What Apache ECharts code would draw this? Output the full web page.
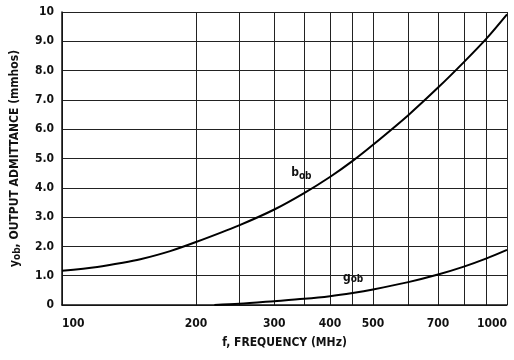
<!DOCTYPE html>
<html>
<head>
<meta charset="utf-8">
<script src="https://cdn.jsdelivr.net/npm/echarts@6/dist/echarts.min.js"></script>
<style>
  html, body { margin: 0; padding: 0; background: #fff; }
  #main { width: 514px; height: 360px; }
</style>
</head>
<body>
<div id="main"></div>
<script>
// frequency (MHz) and output admittance (mmhos)
var freqB = [100, 120, 137, 150, 175, 200, 250, 300, 350, 400, 450, 500, 600, 700, 800, 900, 1000];
var bob   = [1.17, 1.3, 1.44, 1.56, 1.84, 2.15, 2.72, 3.26, 3.82, 4.37, 4.92, 5.47, 6.48, 7.42, 8.29, 9.1, 9.92];
var freqG = [220, 250, 300, 350, 400, 450, 500, 600, 700, 800, 900, 1000];
var gob   = [0, 0.04, 0.13, 0.21, 0.3, 0.41, 0.53, 0.78, 1.04, 1.31, 1.59, 1.88];

var gridFreqs  = [100, 200, 250, 300, 350, 400, 450, 500, 600, 700, 800, 900, 1000];
var labelFreqs = [100, 200, 300, 400, 500, 700, 1000];

var FONT = "'DejaVu Sans Condensed', 'Liberation Sans', sans-serif";

function pairs(xs, ys) {
    return xs.map(function (x, i) { return [x, ys[i]]; });
}

var myChart = echarts.init(document.getElementById('main'));

var option = {
    animation: false,
    backgroundColor: '#fff',
    textStyle: { fontFamily: FONT },
    grid: { left: 62, right: 7, top: 12, bottom: 55 },
    xAxis: {
        type: 'log',
        logBase: 10,
        min: 100,
        max: 1000,
        name: 'f, FREQUENCY (MHz)',
        nameLocation: 'middle',
        nameGap: 32,
        nameTextStyle: { color: '#111', fontSize: 12, fontWeight: 'bold', fontFamily: FONT },
        axisLine: { show: true, lineStyle: { color: '#111', width: 1.5 } },
        axisTick: { show: false, customValues: gridFreqs },
        axisLabel: {
            customValues: labelFreqs,
            color: '#111',
            fontSize: 12,
            fontWeight: 'bold',
            margin: 13,
            fontFamily: FONT,
            alignMinLabel: 'left',
            alignMaxLabel: 'right',
            formatter: function (v) { return String(v); }
        },
        splitLine: { show: true, lineStyle: { color: '#222', width: 1 } }
    },
    yAxis: {
        type: 'value',
        min: 0,
        max: 10,
        interval: 1,
        name: '{y|y}{s|ob}{n|, OUTPUT ADMITTANCE (mmhos)}',
        nameLocation: 'middle',
        nameGap: 40,
        nameTextStyle: {
            color: '#111',
            rich: {
                y: { fontSize: 12, fontWeight: 'bold', fontFamily: FONT, color: '#111' },
                s: { fontSize: 10, fontWeight: 'bold', fontFamily: FONT, color: '#111', padding: [5, 0, 0, 0] },
                n: { fontSize: 12, fontWeight: 'bold', fontFamily: FONT, color: '#111' }
            }
        },
        axisLine: { show: true, lineStyle: { color: '#111', width: 1.5 } },
        axisTick: { show: false },
        axisLabel: {
            color: '#111',
            fontSize: 12,
            fontWeight: 'bold',
            margin: 8,
            fontFamily: FONT,
            formatter: function (v) {
                return (v === 0 || v === 10) ? String(v) : v.toFixed(1);
            }
        },
        splitLine: { show: true, lineStyle: { color: '#222', width: 1 } }
    },
    series: [
        {
            name: 'bob',
            type: 'line',
            smooth: 0.3,
            showSymbol: false,
            lineStyle: { color: '#000', width: 2 },
            data: pairs(freqB, bob),
            markPoint: {
                symbol: 'circle',
                symbolSize: 1,
                itemStyle: { color: 'rgba(0,0,0,0)' },
                label: {
                    show: true,
                    position: 'inside',
                    formatter: '{b|b}{s|ob}',
                    rich: {
                        b: { fontSize: 12, fontWeight: 'bold', fontFamily: FONT, color: '#111' },
                        s: { fontSize: 10, fontWeight: 'bold', fontFamily: FONT, color: '#111', padding: [6, 0, 0, 0] }
                    }
                },
                data: [{ coord: [345, 4.5] }]
            }
        },
        {
            name: 'gob',
            type: 'line',
            smooth: 0.3,
            showSymbol: false,
            lineStyle: { color: '#000', width: 2 },
            data: pairs(freqG, gob),
            markPoint: {
                symbol: 'circle',
                symbolSize: 1,
                itemStyle: { color: 'rgba(0,0,0,0)' },
                label: {
                    show: true,
                    position: 'inside',
                    formatter: '{g|g}{s|ob}',
                    rich: {
                        g: { fontSize: 12, fontWeight: 'bold', fontFamily: FONT, color: '#111' },
                        s: { fontSize: 10, fontWeight: 'bold', fontFamily: FONT, color: '#111', padding: [3, 0, 0, 0] }
                    }
                },
                data: [{ coord: [451, 0.92] }]
            }
        }
    ]
};

myChart.setOption(option);
</script>
</body>
</html>
